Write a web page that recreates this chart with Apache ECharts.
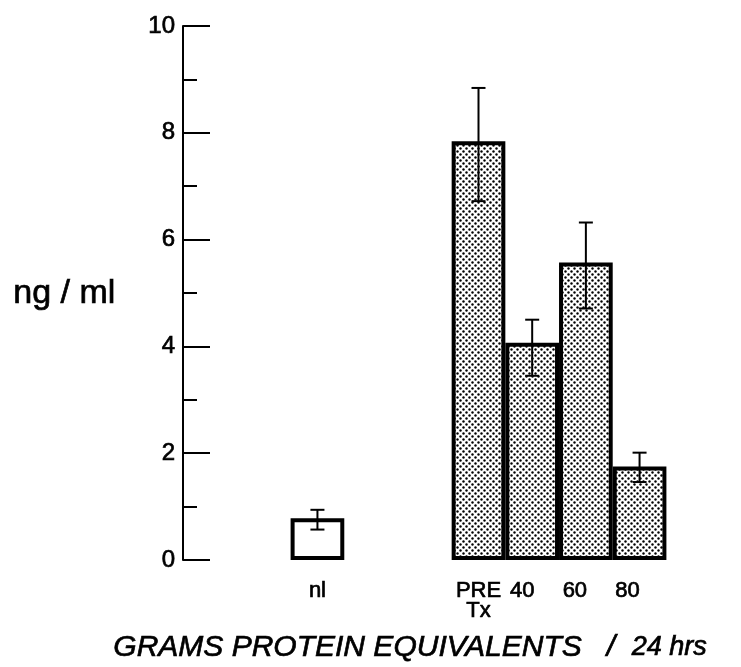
<!DOCTYPE html>
<html>
<head>
<meta charset="utf-8">
<script src="https://cdn.jsdelivr.net/npm/echarts@6/dist/echarts.min.js"></script>
<style>
  html, body { margin: 0; padding: 0; background: #fff; }
  #chart { width: 741px; height: 667px; }
</style>
</head>
<body>
<div id="chart"></div>
<script>
// ---- data ----
const groups  = ['nl', 'PRE\nTx', '40', '60', '80'];
const means   = [0.78, 7.84, 4.07, 5.57, 1.75];
const errLow  = [0.57, 6.72, 3.45, 4.71, 1.46];
const errHigh = [0.94, 8.84, 4.50, 6.32, 2.01];
const yTicks  = [0, 2, 4, 6, 8, 10];

// ---- layout: two empty slots between the control bar and the treated bars ----
const spacerSlots = 2;
const slotIndex = groups.map((g, i) => (i === 0 ? 0 : i + spacerSlots));
const labelShift = [0, 0, 20, 22, 24]; // hand-lettered labels sit a little left of bar centres
const axisCats = [];
for (let k = 0; k < groups.length + spacerSlots; k++) axisCats.push('');
groups.forEach((g, i) => {
  axisCats[slotIndex[i]] = labelShift[i]
    ? { value: g, textStyle: { padding: [0, labelShift[i], 0, 0] } }
    : g;
});

// dotted screen pattern
const tile = document.createElement('canvas');
tile.width = 6; tile.height = 6;
const tc = tile.getContext('2d');
tc.fillStyle = '#fff'; tc.fillRect(0, 0, 6, 6);
tc.fillStyle = '#000';
[[1.5, 1.5], [4.5, 4.5]].forEach(p => { tc.beginPath(); tc.arc(p[0], p[1], 1.2, 0, Math.PI * 2); tc.fill(); });
const dotPattern = { image: tile, repeat: 'repeat' };

const barData = axisCats.map(() => '-');
groups.forEach((g, i) => {
  barData[slotIndex[i]] = {
    value: means[i],
    itemStyle: { color: i === 0 ? '#fff' : dotPattern }
  };
});
const errData = groups.map((g, i) => [slotIndex[i], errLow[i], errHigh[i]]);

const FONT = '"Liberation Sans", Arial, Helvetica, sans-serif';
const INK = { textBorderColor: '#000', textBorderWidth: 0.7 };
const chart = echarts.init(document.getElementById('chart'), null, { renderer: 'canvas' });
chart.setOption({
  animation: false,
  backgroundColor: '#fff',
  grid: { left: 290.6, right: 74.6, top: 26, bottom: 107, containLabel: false },
  xAxis: {
    type: 'category',
    data: axisCats,
    axisLine: { show: false },
    axisTick: { show: false },
    splitLine: { show: false },
    axisLabel: Object.assign({
      interval: 0, color: '#000', fontFamily: FONT, fontSize: 22,
      lineHeight: 20, margin: 21
    }, INK)
  },
  yAxis: {
    type: 'value',
    min: yTicks[0], max: yTicks[yTicks.length - 1], interval: yTicks[1] - yTicks[0],
    offset: 107.6,
    axisLine: { show: true, lineStyle: { color: '#000', width: 2 } },
    axisTick: { show: true, inside: true, length: 27, lineStyle: { color: '#000', width: 2 } },
    minorTick: { show: true, splitNumber: 2, length: 14, lineStyle: { color: '#000', width: 2 } },
    splitLine: { show: false },
    minorSplitLine: { show: false },
    axisLabel: Object.assign({ color: '#000', fontFamily: FONT, fontSize: 24, margin: 8 }, INK)
  },
  series: [
    {
      type: 'bar',
      data: barData,
      barWidth: '100%',
      barCategoryGap: 0,
      itemStyle: { borderColor: '#000', borderWidth: 4 },
      z: 2
    },
    {
      type: 'custom',
      data: errData,
      encode: { x: 0, y: [1, 2] },
      z: 5,
      renderItem: function (params, api) {
        const i = api.value(0);
        const lo = api.coord([i, api.value(1)]);
        const hi = api.coord([i, api.value(2)]);
        const w = 7;
        const st = { stroke: '#000', lineWidth: 2 };
        return {
          type: 'group',
          children: [
            { type: 'line', shape: { x1: hi[0], y1: hi[1], x2: lo[0], y2: lo[1] }, style: st },
            { type: 'line', shape: { x1: hi[0] - w, y1: hi[1], x2: hi[0] + w, y2: hi[1] }, style: st },
            { type: 'line', shape: { x1: lo[0] - w, y1: lo[1], x2: lo[0] + w, y2: lo[1] }, style: st }
          ]
        };
      }
    }
  ],
  graphic: [
    {
      type: 'text', left: 13, top: 276,
      style: { text: 'ng / ml', font: '34px ' + FONT, fill: '#000', stroke: '#000', lineWidth: 0.7 }
    },
    {
      type: 'text', left: 113, top: 632,
      style: {
        text: '{a|GRAMS PROTEIN EQUIVALENTS   /  }{b|24 hrs}',
        fill: '#000',
        rich: {
          a: { fontFamily: FONT, fontSize: 30, fontStyle: 'italic', fill: '#000', stroke: '#000', lineWidth: 0.7 },
          b: { fontFamily: FONT, fontSize: 27, fontStyle: 'italic', fill: '#000', stroke: '#000', lineWidth: 0.7 }
        }
      }
    }
  ]
});
</script>
</body>
</html>
